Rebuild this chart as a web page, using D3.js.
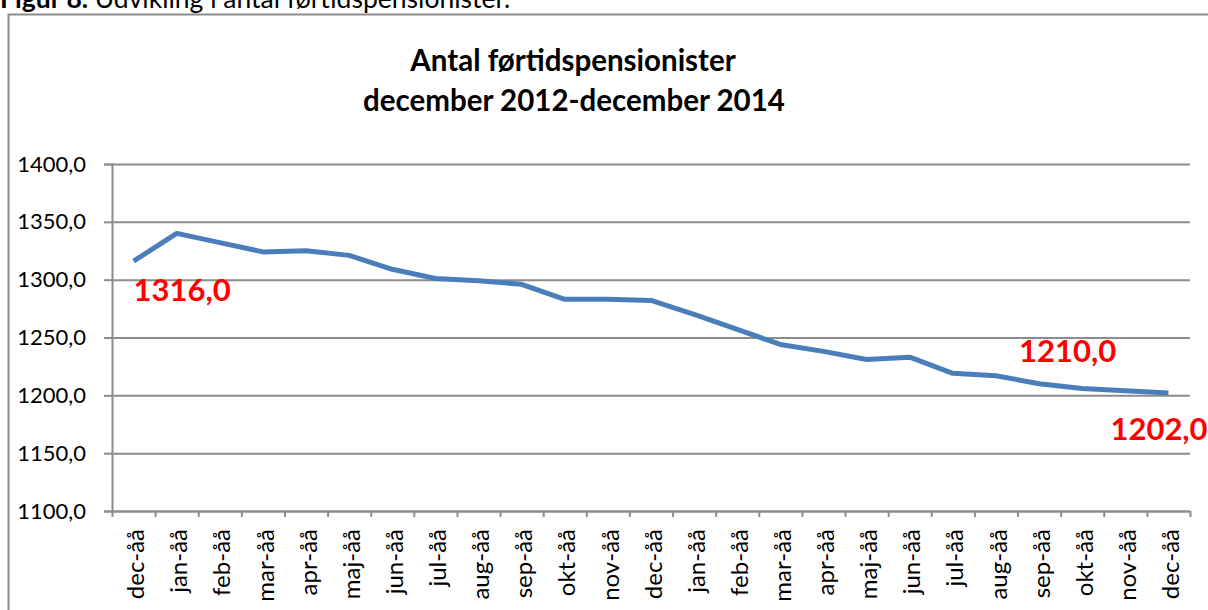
<!DOCTYPE html>
<html>
<head>
<meta charset="utf-8">
<script src="https://cdn.jsdelivr.net/npm/d3@7"></script>
<style>
  body { margin: 0; background: #fff; }
  svg { display: block; font-family: Lato, "Open Sans", sans-serif; }
</style>
</head>
<body>
<div id="chart"></div>
<script>
// month labels (dec 2012 - dec 2014)
const months = ["dec-åå","jan-åå","feb-åå","mar-åå","apr-åå","maj-åå","jun-åå","jul-åå","aug-åå","sep-åå","okt-åå","nov-åå",
                "dec-åå","jan-åå","feb-åå","mar-åå","apr-åå","maj-åå","jun-åå","jul-åå","aug-åå","sep-åå","okt-åå","nov-åå","dec-åå"];
const counts = [1316, 1340, 1332, 1324, 1325, 1321, 1309, 1301, 1299, 1296, 1283, 1283,
                1282, 1270, 1257, 1244, 1238, 1231, 1233, 1219, 1217, 1210, 1206, 1204, 1202];
const yTicks = [1100, 1150, 1200, 1250, 1300, 1350, 1400];
// highlighted values: index into counts
const callouts = [0, 21, 24];

var width = 1208, height = 610;
var margin = {top: 164, right: 18, bottom: 99, left: 112};
var w = width - margin.left - margin.right;
var h = height - margin.top - margin.bottom;

const svg = d3.select("#chart")
  .append("svg")
    .attr("width", width)
    .attr("height", height);

// caption above the chart frame (cut off at top in the original)
svg.append("text")
  .attr("x", 0).attr("y", 8)
  .style("font-size", "26.5px")
  .call(t => {
    t.append("tspan").style("font-weight", "bold").text("Figur 8.");
    t.append("tspan").text(" Udvikling i antal førtidspensionister.");
  });

// chart frame
svg.append("rect")
  .attr("x", 8.5).attr("y", 14.5)
  .attr("width", 1220).attr("height", 620)
  .attr("fill", "none")
  .attr("stroke", "#8c8c8c")
  .attr("stroke-width", 2);

// title
svg.append("text")
  .attr("x", 573).attr("y", 71)
  .style("text-anchor", "middle")
  .style("font-weight", "bold")
  .style("font-size", "29.5px")
  .text("Antal førtidspensionister");
svg.append("text")
  .attr("x", 574).attr("y", 111)
  .style("text-anchor", "middle")
  .style("font-weight", "bold")
  .style("font-size", "29.5px")
  .text("december 2012-december 2014");

const g = svg.append("g")
  .attr("transform", `translate(${margin.left},${margin.top})`);

var x = d3.scaleBand()
  .domain(d3.range(months.length))
  .range([0, w]);

var xEdge = d3.scaleLinear()
  .domain([0, months.length])
  .range([0, w]);

var y = d3.scaleLinear()
  .domain([1100, 1400])
  .range([h, 0]);

const fmt = v => d3.format(".1f")(v).replace(".", ",");

// gridlines
g.append("g")
  .call(d3.axisLeft(y).tickValues(yTicks).tickSize(-w).tickFormat(""))
  .call(s => s.select(".domain").remove())
  .selectAll("line")
    .attr("stroke", "#8c8c8c")
    .attr("stroke-width", 2);

// y axis
g.append("g")
  .call(d3.axisLeft(y).tickValues(yTicks).tickSize(8).tickPadding(18).tickFormat(fmt))
  .call(s => s.selectAll("line, path").attr("stroke", "#8c8c8c").attr("stroke-width", 2))
  .selectAll("text")
    .attr("fill", "#000")
    .style("font-family", "Lato, sans-serif")
    .style("font-size", "22px");

// x axis boundary ticks
g.append("g")
  .attr("transform", `translate(0,${h})`)
  .call(d3.axisBottom(xEdge).tickValues(d3.range(months.length + 1)).tickSize(6).tickSizeOuter(0).tickFormat(""))
  .selectAll("line, path")
    .attr("stroke", "#8c8c8c")
    .attr("stroke-width", 2);

// x labels
g.append("g")
  .attr("transform", `translate(0,${h})`)
  .call(d3.axisBottom(x).tickSize(0).tickFormat(i => months[i]))
  .call(s => s.select(".domain").remove())
  .selectAll("text")
    .attr("fill", "#000")
    .style("font-family", "Lato, sans-serif")
    .style("font-size", "24px")
    .style("text-anchor", "end")
    .attr("transform", "translate(2, 18)rotate(-90)")
    .attr("x", 0).attr("y", 0).attr("dy", "0.36em");

// line
var line = d3.line()
  .x((d, i) => x(i) + x.bandwidth() / 2)
  .y(d => y(d));

g.append("path")
  .datum(counts)
  .attr("fill", "none")
  .attr("stroke", "#4a7ebb")
  .attr("stroke-width", 5)
  .attr("stroke-linejoin", "round")
  .attr("d", line);

// red value callouts
const offsets = {0: [0, 40, "start"], 21: [-20, -22, "start"], 24: [-58, 47, "start"]};
g.selectAll("text.callout")
  .data(callouts)
  .enter()
  .append("text")
    .attr("class", "callout")
    .attr("x", i => x(i) + x.bandwidth() / 2 + offsets[i][0])
    .attr("y", i => y(counts[i]) + offsets[i][1])
    .style("text-anchor", i => offsets[i][2])
    .style("font-weight", "bold")
    .style("font-size", "31px")
    .attr("fill", "#ff0000")
    .text(i => fmt(counts[i]));
</script>
</body>
</html>
